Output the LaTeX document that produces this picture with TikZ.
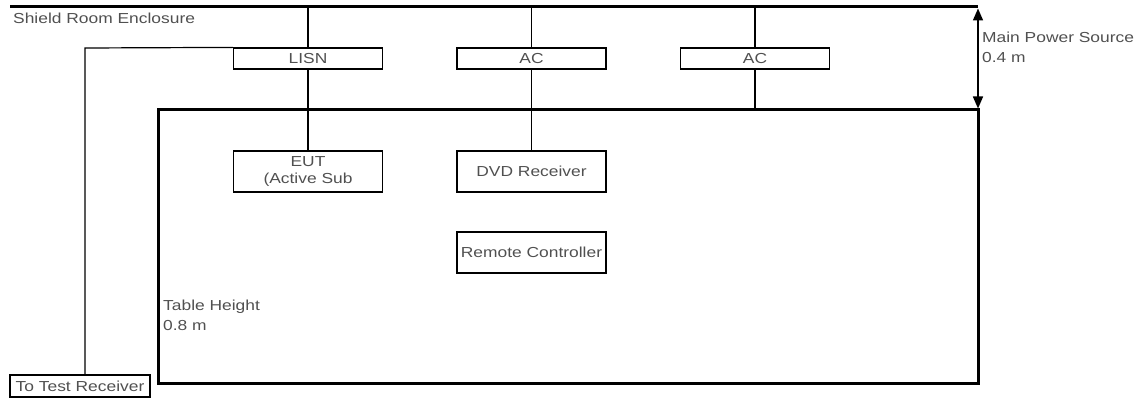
\documentclass[tikz,border=0pt]{standalone}
\usepackage{fontspec}
\setmainfont{Liberation Sans}[FakeStretch=1.2]
\usetikzlibrary{arrows.meta}
\definecolor{txt}{HTML}{505050}
\tikzset{
  thin line/.style={line width=1.2pt, draw=black},
  thick line/.style={line width=3pt, draw=black},
  unit/.style={thin line, minimum width=149pt, minimum height=21pt, inner sep=0pt, text=txt, font=\fontsize{14.5}{17}\selectfont},
  bigunit/.style={unit, minimum height=41pt},
  lbl/.style={inner sep=0pt, text=txt, font=\fontsize{14.5}{20}\selectfont, align=left},
}
\begin{document}
\begin{tikzpicture}[x=1pt,y=-1pt]
\useasboundingbox (0,0) rectangle (1141,398);
% enclosure top line and table
\coordinate (tl) at (10,7);
\coordinate (tr) at (978,7);
\draw[thick line] (tl) -- (tr);
\draw[thick line] (158,110) rectangle (978,383);
% dimension arrow
\coordinate (ta) at (978,8.5);
\coordinate (tb) at (978,108.5);
\draw[line width=1.6pt, {Triangle[length=12pt,width=10pt]}-{Triangle[length=12pt,width=10pt]}] (ta) -- (tb);
% boxes
\node[unit] (lisn) at (308,58.5) {LISN};
\node[unit] (ac1) at (531.5,58.5) {AC};
\node[unit] (ac2) at (755,58.5) {AC};
\node[bigunit, align=center] (eut) at (308,171.5) {EUT\\(Active Sub};
\node[bigunit] (dvd) at (531.5,171.5) {DVD Receiver};
\node[bigunit] (rc) at (531.5,252.5) {Remote Controller};
\node[unit, minimum width=140pt, minimum height=22pt] (ttr) at (80,386) {To Test Receiver};
% connectors
\coordinate (p1) at (308,7);
\coordinate (p2) at (531.5,7);
\coordinate (p3) at (755,7);
\coordinate (t3) at (755,110);
\draw[thin line] (p1) -- (lisn.north);
\draw[thin line] (lisn.south) -- (eut.north);
\draw[thin line] (p2) -- (ac1.north);
\draw[thin line] (ac1.south) -- (dvd.north);
\draw[thin line] (p3) -- (ac2.north);
\draw[thin line] (ac2.south) -- (t3);
\coordinate (c1) at (85,48);
\draw[thin line] (lisn.north west) -- (c1) -- (c1 |- ttr.north);
% labels
\node[lbl, anchor=west] (shield) at (13,18) {Shield Room Enclosure};
\node[lbl, anchor=north west] (mps) at (982,32) {Main Power Source\\0.4 m};
\node[lbl, anchor=north west] (th) at (163,300) {Table Height\\0.8 m};
\end{tikzpicture}
\end{document}
